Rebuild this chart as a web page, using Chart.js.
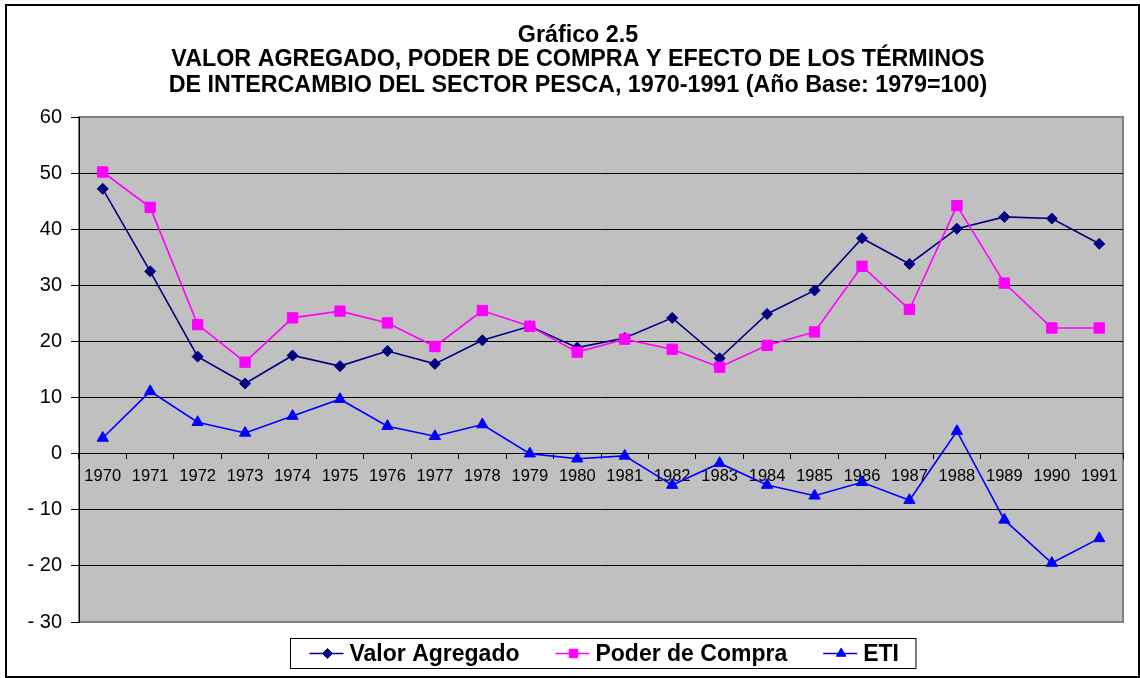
<!DOCTYPE html>
<html>
<head>
<meta charset="utf-8">
<script src="https://cdn.jsdelivr.net/npm/chart.js@4.4.1/dist/chart.umd.min.js"></script>
<style>
html,body{margin:0;padding:0;background:#fff;}
canvas{display:block;}
</style>
</head>
<body>
<canvas id="c" width="1140" height="678"></canvas>
<script>
// ---- data ----
const years = ['1970','1971','1972','1973','1974','1975','1976','1977','1978','1979','1980',
               '1981','1982','1983','1984','1985','1986','1987','1988','1989','1990','1991'];
const valorAgregado = [47.2, 32.5, 17.3, 12.5, 17.5, 15.6, 18.3, 16.0, 20.2, 22.7, 18.9,
                       20.6, 24.2, 17.0, 24.9, 29.1, 38.4, 33.8, 40.1, 42.2, 41.9, 37.4];
const poderCompra   = [50.2, 43.9, 23.0, 16.3, 24.2, 25.4, 23.3, 19.1, 25.5, 22.7, 18.1,
                       20.4, 18.6, 15.4, 19.3, 21.7, 33.4, 25.7, 44.2, 30.4, 22.4, 22.4];
const eti           = [2.8, 11.1, 5.6, 3.7, 6.7, 9.7, 4.9, 3.1, 5.2, 0.0, -0.9,
                       -0.4, -5.6, -1.7, -5.6, -7.5, -5.1, -8.3, 4.0, -11.8, -19.5, -15.1];
const seriesNames = ['Valor Agregado', 'Poder de Compra', 'ETI'];
const titleLines = ['Gráfico 2.5',
  'VALOR AGREGADO, PODER DE COMPRA Y EFECTO DE LOS TÉRMINOS',
  'DE INTERCAMBIO DEL SECTOR PESCA, 1970-1991 (Año Base: 1979=100)'];
const yMin = -30, yMax = 60, yStep = 10;

// ---- styling ----
const FONT = '"Liberation Sans", Arial, Helvetica, sans-serif';

const bgPlugin = {
  id: 'bgPlugin',
  beforeDraw(chart) {
    const {ctx, chartArea: a} = chart;
    ctx.save();
    ctx.fillStyle = '#ffffff';
    ctx.fillRect(0, 0, chart.width, chart.height);
    ctx.fillStyle = '#C0C0C0';
    ctx.fillRect(a.left, a.top, a.right - a.left, a.bottom - a.top);
    ctx.strokeStyle = '#808080';
    ctx.lineWidth = 2;
    ctx.strokeRect(a.left, a.top, a.right - a.left, a.bottom - a.top);
    // outer frame
    ctx.strokeStyle = '#000';
    ctx.lineWidth = 2;
    ctx.strokeRect(6, 5, 1133, 672);
    // title
    ctx.fillStyle = '#000';
    ctx.font = 'bold 23.3px ' + FONT;
    ctx.textAlign = 'center';
    ctx.textBaseline = 'alphabetic';
    const baselines = [41.5, 66, 91.5];
    titleLines.forEach((t, i) => ctx.fillText(t, 578, baselines[i]));
    ctx.restore();
  }
};

const legendPlugin = {
  id: 'boxLegend',
  afterDraw(chart) {
    const {ctx, chartArea: a} = chart;
    const ds = chart.data.datasets;
    ctx.save();
    ctx.font = 'bold 23px ' + FONT;
    const sample = 34, gap = 6, spacing = 36, padL = 19, padR = 17;
    const widths = ds.map(d => ctx.measureText(d.label).width);
    let total = padL + padR;
    widths.forEach((w, i) => { total += sample + gap + w + (i < ds.length - 1 ? spacing : 0); });
    const cx = (a.left + a.right) / 2 + 1.5;
    const left = Math.round(cx - total / 2) + 0.5;
    const top = 638.5, h = 30;
    ctx.strokeStyle = '#000';
    ctx.lineWidth = 1;
    ctx.strokeRect(left, top, total, h);
    const cy = top + h / 2;
    let x = left + padL;
    ds.forEach((d, i) => {
      ctx.strokeStyle = d.borderColor;
      ctx.lineWidth = 1.6;
      ctx.beginPath();
      ctx.moveTo(x, cy);
      ctx.lineTo(x + sample, cy);
      ctx.stroke();
      ctx.fillStyle = d.pointBackgroundColor;
      ctx.strokeStyle = d.pointBorderColor;
      ctx.lineWidth = 1;
      Chart.helpers.drawPoint(ctx, {pointStyle: d.pointStyle, radius: d.legendRadius, rotation: 0, borderWidth: 1}, x + sample / 2 + 1, cy);
      ctx.fillStyle = '#000';
      ctx.textAlign = 'left';
      ctx.textBaseline = 'middle';
      ctx.fillText(d.label, x + sample + gap, cy + 1);
      x += sample + gap + widths[i] + spacing;
    });
    ctx.restore();
  }
};

const chart = new Chart(document.getElementById('c'), {
  type: 'line',
  data: {
    labels: years,
    datasets: [
      {
        label: seriesNames[0], data: valorAgregado, order: 2,
        borderColor: '#000080', backgroundColor: '#000080',
        pointBackgroundColor: '#000080', pointBorderColor: '#000080',
        borderWidth: 1.6, pointStyle: 'rectRot', pointRadius: 5.5, pointBorderWidth: 1,
        legendRadius: 5, tension: 0
      },
      {
        label: seriesNames[1], data: poderCompra, order: 1,
        borderColor: '#FF00FF', backgroundColor: '#FF00FF',
        pointBackgroundColor: '#FF00FF', pointBorderColor: '#FF00FF',
        borderWidth: 1.6, pointStyle: 'rect', pointRadius: 7.3, pointBorderWidth: 1,
        legendRadius: 6, tension: 0
      },
      {
        label: seriesNames[2], data: eti, order: 0,
        borderColor: '#0000FF', backgroundColor: '#0000FF',
        pointBackgroundColor: '#0000FF', pointBorderColor: '#0000FF',
        borderWidth: 1.6, pointStyle: 'triangle', pointRadius: 6.5, pointBorderWidth: 1,
        legendRadius: 5.5, tension: 0
      }
    ]
  },
  options: {
    responsive: false,
    devicePixelRatio: 1,
    animation: false,
    layout: { padding: { top: 117, bottom: 56, left: 0, right: 17 } },
    plugins: {
      legend: { display: false },
      title: { display: false },
      tooltip: { enabled: false }
    },
    scales: {
      x: {
        type: 'category',
        position: { y: 0 },
        offset: true,
        grid: {
          offset: true, drawOnChartArea: false, drawTicks: true,
          tickLength: 5, color: '#000', lineWidth: 1
        },
        border: { display: true, color: '#000', width: 1 },
        ticks: {
          color: '#000', font: { family: FONT, size: 16.5 },
          padding: 8, maxRotation: 0, autoSkip: false
        }
      },
      y: {
        min: yMin, max: yMax,
        afterFit(scale) { scale.width = 79; },
        grid: {
          color: (c) => (c.tick && (c.tick.value === yMax || c.tick.value === yMin)) ? '#808080' : '#000',
          tickColor: '#000', tickLength: 8, lineWidth: 1, drawTicks: true
        },
        border: { display: true, color: '#000', width: 1 },
        ticks: {
          stepSize: yStep, color: '#000', font: { family: FONT, size: 20 }, padding: 9,
          callback: (v) => v < 0 ? '- ' + Math.abs(v) : String(v)
        }
      }
    }
  },
  plugins: [bgPlugin, legendPlugin]
});
</script>
</body>
</html>
